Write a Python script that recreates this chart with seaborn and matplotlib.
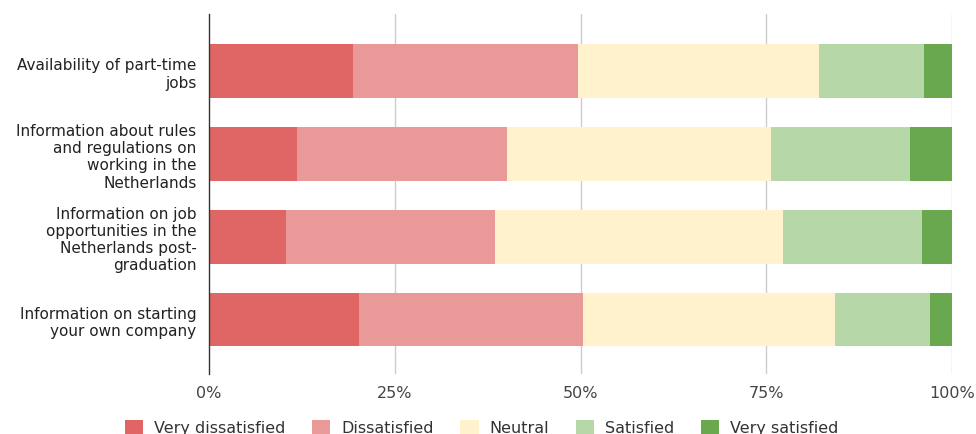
import matplotlib
matplotlib.use("Agg")
import matplotlib.pyplot as plt
import seaborn as sns
import pandas as pd
import numpy as np
from matplotlib.patches import Patch

categories = [
    "Availability of part-time\njobs",
    "Information about rules\nand regulations on\nworking in the\nNetherlands",
    "Information on job\nopportunities in the\nNetherlands post-\ngraduation",
    "Information on starting\nyour own company",
]
levels = ["Very dissatisfied", "Dissatisfied", "Neutral", "Satisfied", "Very satisfied"]
very_dissatisfied = [19.4, 11.9, 10.3, 20.2]
dissatisfied = [30.2, 28.2, 28.2, 30.2]
neutral = [32.5, 35.5, 38.8, 33.9]
satisfied = [14.1, 18.7, 18.6, 12.8]
very_satisfied = [3.8, 5.7, 4.1, 2.9]
colors = ["#e06666", "#ea9999", "#fff2cc", "#b6d7a8", "#6aa84f"]
xticks = [0, 25, 50, 75, 100]
xticklabels = ["0%", "25%", "50%", "75%", "100%"]

sns.set_theme(style="white")
plt.rcParams["font.family"] = ["DejaVu Sans"]

series = [very_dissatisfied, dissatisfied, neutral, satisfied, very_satisfied]
df = pd.DataFrame({lvl: vals for lvl, vals in zip(levels, series)})
df["category"] = categories
totals = df[levels].sum(axis=1)
pct = df[levels].div(totals, axis=0) * 100
cum = pct.cumsum(axis=1)
cum["category"] = categories

fig = plt.figure(figsize=(9.76, 4.35), dpi=100)
ax = fig.add_axes([209 / 976, 1 - 375 / 435, (952 - 209) / 976, 360 / 435])

for lvl, col in reversed(list(zip(levels, colors))):
    sns.barplot(data=cum, x=lvl, y="category", color=col, orient="h",
                width=0.65, ax=ax, saturation=1, linewidth=0, label=lvl)

ax.set_xlim(0, 100)
ax.set_ylim(3.658, -0.688)
ax.set_xticks(xticks)
ax.set_xticklabels(xticklabels)
ax.set_xlabel("")
ax.set_ylabel("")
for x in xticks[1:]:
    ax.axvline(x, color="#cccccc", lw=1, zorder=0)
ax.set_axisbelow(True)
for s in ["top", "right", "bottom"]:
    ax.spines[s].set_visible(False)
ax.spines["left"].set_color("#333333")
ax.spines["left"].set_linewidth(1)
ax.tick_params(axis="x", length=0, pad=8, labelsize=11.5, labelcolor="#444444")
ax.tick_params(axis="y", length=0, pad=9, labelsize=11, labelcolor="#222222")
for t in ax.get_yticklabels():
    t.set_horizontalalignment("right")
    t.set_multialignment("right")
    t.set_linespacing(1.18)
if ax.get_legend() is not None:
    ax.get_legend().remove()

handles = [Patch(facecolor=c, edgecolor="none", label=l) for l, c in zip(levels, colors)]
fig.legend(handles=handles, loc="center", bbox_to_anchor=(0.4935, 1 - 428.5 / 435),
           ncol=5, frameon=False, fontsize=11.5, handlelength=1.15, handleheight=0.95,
           columnspacing=1.65, handletextpad=0.7, labelcolor="#333333")

fig.savefig("out.png", dpi=100)
